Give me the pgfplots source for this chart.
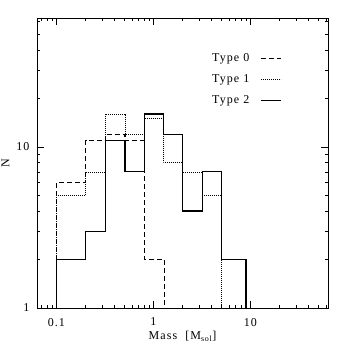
\documentclass[border=0pt]{standalone}
\usepackage{fontspec}
\setmainfont{Liberation Serif}[LetterSpace=9]
\usepackage{pgfplots}
\pgfplotsset{compat=1.18}
\newcommand\chartfont{\fontsize{12}{14}\selectfont}

\begin{document}
\begin{tikzpicture}
\path[use as bounding box] (-37pt,-38pt) rectangle (309pt,308pt);
\begin{axis}[
  at={(0pt,0pt)}, anchor=south west,
  scale only axis, width=291pt, height=290pt,
  xmode=log, ymode=log,
  xmin=0.0631, xmax=63.1,
  ymin=1, ymax=63.1,
  xtick={0.1,1,10}, xticklabels={0.1,1,10},
  ytick={1,10}, yticklabels={1,10},
  minor xtick={0.07,0.08,0.09,0.2,0.3,0.4,0.5,0.6,0.7,0.8,0.9,2,3,4,5,6,7,8,9,20,30,40,50,60},
  minor ytick={2,3,4,5,6,7,8,9,20,30,40,50,60},
  major tick length=7.5pt, minor tick length=3.5pt,
  tick align=inside, tick pos=both,
  axis line style={line width=0.9pt},
  every tick/.style={black, line width=0.7pt},
  /pgf/number format/assume math mode=true,
  tick label style={font=\chartfont},
  xticklabel style={yshift=-6.5pt},
  yticklabel style={xshift=-4pt},
  xlabel={Mass~~[M\textsubscript{sol}]},
  ylabel={N},
  label style={font=\chartfont},
  xlabel style={at={(axis description cs:0.5,-0.098)}, anchor=center},
  ylabel style={at={(axis description cs:-0.108,0.5)}, anchor=center},
  legend plot pos=right,
  legend cell align=left,
  legend image code/.code={\draw[#1] (0pt,0pt) -- (20pt,0pt);},
  legend style={at={(axis description cs:0.5945,0.881)}, anchor=north west,
    draw=none, fill=none, inner sep=0pt, font=\chartfont,
    nodes={inner sep=2pt, text height=7pt, text depth=0pt},
    row sep=10pt, column sep=9pt},
]
% Type 0
\addplot[const plot, black, line width=1.1pt, dash pattern=on 5pt off 3pt] coordinates {
  (0.1,1) (0.1,6) (0.2,11) (0.32,12) (0.51,11) (0.81,2) (1.3,1)
};
\addlegendentry{Type~0}
% Type 1
\addplot[const plot, black, line width=0.6pt, dash pattern=on 0.8pt off 1.2pt] coordinates {
  (0.1,1) (0.1,5) (0.2,7) (0.32,16) (0.51,12) (0.81,15) (1.27,8) (2.0,7) (3.2,5) (5.0,1)
};
\addlegendentry{Type~1}
% Type 2
\addplot[const plot, black, line width=1.25pt] coordinates {
  (0.1,1) (0.1,2) (0.2,3) (0.32,11) (0.51,7) (0.81,16) (1.27,12) (2.0,4) (3.2,7) (5.0,2) (9.0,1)
};
\addlegendentry{Type~2}
\end{axis}
\end{tikzpicture}
\end{document}
